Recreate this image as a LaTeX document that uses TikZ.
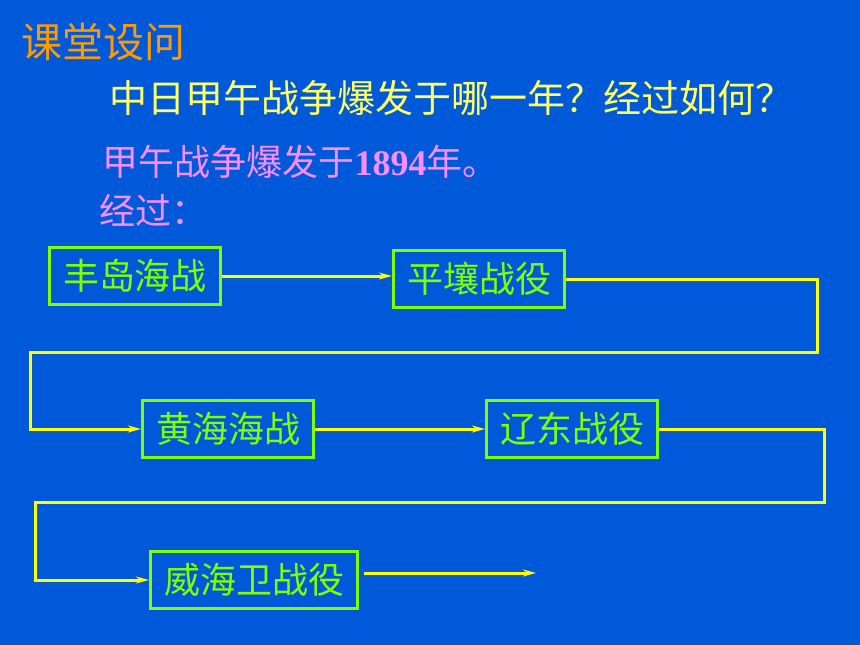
\documentclass[tikz,border=0pt]{standalone}
\usepackage{fontspec}
\usepackage{tikz}
\usetikzlibrary{arrows.meta, positioning}
\newfontfamily\cjk{Noto Sans CJK SC}
\newfontfamily\numfont{Liberation Serif}
\definecolor{slideBlue}{RGB}{0, 89, 217}
\definecolor{titleOrange}{RGB}{255, 153, 0}
\definecolor{askYellow}{RGB}{255, 255, 102}
\definecolor{answerPink}{RGB}{255, 140, 255}
\definecolor{battleGreen}{RGB}{128, 255, 0}
\definecolor{linkYellow}{RGB}{255, 255, 0}

\begin{document}
\begin{tikzpicture}[x=1pt, y=-1pt,
    battle/.style={draw=battleGreen, line width=3.2pt, text=battleGreen,
        font=\cjk\fontsize{36}{40}\selectfont, inner xsep=13.5pt,
        minimum height=57pt, text height=30pt, text depth=4pt},
    link/.style={linkYellow, line width=3pt,
        -{Stealth[length=13pt, width=7pt]}}]
\fill[slideBlue] (0,0) rectangle (860,645);
\node[anchor=west, text=titleOrange, font=\cjk\fontsize{41}{44}\selectfont] (title) at (18,42) {课堂设问};
\node[anchor=west, text=askYellow, font=\cjk\fontsize{38}{42}\selectfont] (ask) at (106,98) {中日甲午战争爆发于哪一年？经过如何？};
\node[anchor=west, text=answerPink, font=\cjk\fontsize{36}{40}\selectfont] (year) at (99,162) {甲午战争爆发于{\numfont\bfseries 1894}年。};
\node[anchor=west, text=answerPink, font=\cjk\fontsize{36}{40}\selectfont] (course) at (96,210) {经过：};

% battles
\node[battle] (b1) at (135,276) {丰岛海战};
\node[battle] (b2) at (479,279) {平壤战役};
\node[battle] (b3) at (228,429) {黄海海战};
\node[battle] (b4) at (572,429) {辽东战役};
\node[battle] (b5) at (254,580) {威海卫战役};
\coordinate (last) at (536,573);

\draw[link] (b1.east) -- (b1.east -| b2.west);
\draw[link] (b2.east) -| (817,352) -- (30,352) |- (b3.west);
\draw[link] (b3.east) -- (b4.west);
\draw[link] (b4.east) -| (824,502) -- (35,502) |- (b5.west);
\draw[link] ([xshift=5pt]b5.east |- last) -- (last);
\end{tikzpicture}
\end{document}
